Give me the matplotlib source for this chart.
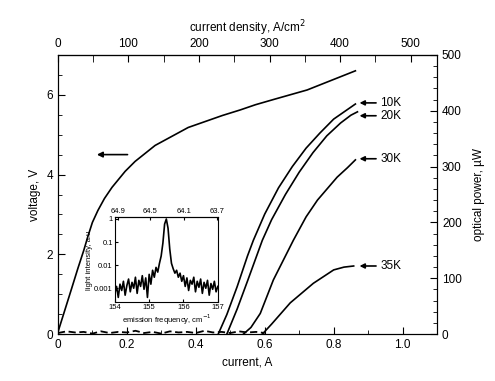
import matplotlib
matplotlib.use("Agg")
import matplotlib.pyplot as plt
from matplotlib.ticker import MultipleLocator, FixedLocator

plt.rcParams["font.family"] = ["Liberation Sans", "DejaVu Sans"]

# voltage vs current (left axis)
v_current = [0.0, 0.02, 0.04, 0.058, 0.075, 0.087, 0.1, 0.116, 0.135, 0.157, 0.195, 0.224,
             0.282, 0.378, 0.477, 0.529, 0.573, 0.625, 0.723, 0.863]
voltage = [0.05, 0.6, 1.15, 1.65, 2.1, 2.45, 2.8, 3.1, 3.4, 3.68, 4.08, 4.33,
           4.73, 5.18, 5.48, 5.62, 5.75, 5.88, 6.12, 6.6]

# optical power vs current (right axis), uW
i_10k = [0.465, 0.49, 0.52, 0.55, 0.567, 0.60, 0.64, 0.68, 0.72, 0.76, 0.80, 0.835, 0.863]
p_10k = [0, 35, 85, 140, 168, 215, 262, 300, 333, 360, 385, 400, 412]
i_20k = [0.49, 0.52, 0.55, 0.593, 0.62, 0.66, 0.70, 0.74, 0.78, 0.82, 0.85, 0.869]
p_20k = [0, 45, 95, 168, 205, 250, 290, 325, 355, 378, 392, 398]
i_30k = [0.538, 0.56, 0.587, 0.625, 0.683, 0.72, 0.753, 0.81, 0.84, 0.863]
p_30k = [0, 12, 37, 97, 168, 210, 240, 281, 298, 312]
i_35k = [0.593, 0.62, 0.674, 0.741, 0.80, 0.83, 0.858]
p_35k = [0, 18, 56, 91, 115, 120, 122]
temps = ["10K", "20K", "30K", "35K"]
label_p = [414, 391, 314, 122]

# noisy dark baseline below threshold
base_i = [0.0, 0.025, 0.05, 0.075, 0.1, 0.125, 0.15, 0.175, 0.2, 0.225, 0.25, 0.275,
          0.3, 0.325, 0.35, 0.375, 0.4, 0.425, 0.45, 0.475, 0.5, 0.525, 0.55, 0.575, 0.6]
base_p = [2, 5, 3, 4, 1, 5, 2, 4, 3, 6, 2, 4, 1, 5, 3, 4, 2, 6, 3, 4, 2, 5, 3, 4, 2]

# inset spectrum
freq = [154.00, 154.05, 154.10, 154.15, 154.20, 154.25, 154.30, 154.35, 154.40, 154.45,
        154.50, 154.55, 154.60, 154.65, 154.70, 154.75, 154.80, 154.85, 154.90, 154.95,
        155.00, 155.05, 155.10, 155.15, 155.20, 155.25, 155.30, 155.35, 155.40, 155.45,
        155.50, 155.55, 155.60, 155.65, 155.70, 155.75, 155.80, 155.85, 155.90, 155.95,
        156.00, 156.05, 156.10, 156.15, 156.20, 156.25, 156.30, 156.35, 156.40, 156.45,
        156.50, 156.55, 156.60, 156.65, 156.70, 156.75, 156.80, 156.85, 156.90, 156.95,
        157.00]
intensity = [0.0006, 0.0012, 0.0004, 0.0015, 0.0008, 0.0020, 0.0005, 0.0013, 0.0025, 0.0007,
             0.0018, 0.0010, 0.0030, 0.0006, 0.0022, 0.0012, 0.0035, 0.0009, 0.0028, 0.0004,
             0.0040, 0.0015, 0.0060, 0.0030, 0.0080, 0.0050, 0.0120, 0.0250, 0.0900, 0.6000,
             1.0000, 0.4000, 0.0500, 0.0120, 0.0070, 0.0045, 0.0060, 0.0030, 0.0045, 0.0020,
             0.0035, 0.0012, 0.0028, 0.0008, 0.0022, 0.0015, 0.0030, 0.0007, 0.0020, 0.0011,
             0.0025, 0.0006, 0.0018, 0.0010, 0.0022, 0.0005, 0.0016, 0.0009, 0.0020, 0.0007,
             0.0012]
wl_ticks = [64.9, 64.5, 64.1, 63.7]

fs = 8.5
fig = plt.figure(figsize=(4.95, 3.81), dpi=100)
ax = fig.add_axes([0.117, 0.123, 0.766, 0.733])
ax2 = ax.twinx()

ax.plot(v_current, voltage, color="black", lw=1.2)
for ii, pp in [(i_10k, p_10k), (i_20k, p_20k), (i_30k, p_30k), (i_35k, p_35k)]:
    ax2.plot(ii, pp, color="black", lw=1.2)
ax2.plot(base_i, base_p, color="black", lw=1.3, ls=(0, (4, 2)))

ax.set_xlim(0, 1.1)
ax.set_ylim(0, 7)
ax2.set_ylim(0, 500)

ax.xaxis.set_major_locator(FixedLocator([0, 0.2, 0.4, 0.6, 0.8, 1.0]))
ax.set_xticklabels(["0", "0.2", "0.4", "0.6", "0.8", "1.0"])
ax.xaxis.set_minor_locator(MultipleLocator(0.1))
ax.yaxis.set_major_locator(MultipleLocator(2))
ax.yaxis.set_minor_locator(MultipleLocator(0.5))
ax2.yaxis.set_major_locator(MultipleLocator(100))
ax2.yaxis.set_minor_locator(MultipleLocator(20))

for a in (ax, ax2):
    a.tick_params(which="both", direction="in", labelsize=fs)
    a.tick_params(which="major", length=5)
    a.tick_params(which="minor", length=3)

# top axis: current density
top = ax.secondary_xaxis("top", functions=(lambda i: i * 488.6, lambda j: j / 488.6))
top.xaxis.set_major_locator(MultipleLocator(100))
top.xaxis.set_minor_locator(MultipleLocator(50))
top.tick_params(which="both", direction="in", labelsize=fs)
top.tick_params(which="major", length=5)
top.tick_params(which="minor", length=5)
top.set_xlabel("current density, A/cm$^2$", fontsize=fs)

ax.set_xlabel("current, A", fontsize=fs)
ax.set_ylabel("voltage, V", fontsize=fs)
ax2.set_ylabel("optical power, µW", fontsize=fs, rotation=90, labelpad=8)

# arrow pointing to the voltage axis
ax.annotate("", xy=(0.105, 4.5), xytext=(0.21, 4.5),
            arrowprops=dict(arrowstyle="-|>", color="black", lw=1.2, mutation_scale=8))

# temperature labels with arrows
for t, p in zip(temps, label_p):
    ax2.annotate(t, xy=(0.875, p), xytext=(0.935, p), va="center", ha="left", fontsize=fs,
                 arrowprops=dict(arrowstyle="-|>", color="black", lw=1.2,
                                 mutation_scale=7, shrinkA=1, shrinkB=0))

# inset spectrum
ins = fig.add_axes([0.232, 0.207, 0.208, 0.223])
ins.plot(freq, intensity, color="black", lw=1.2)
ins.set_yscale("log")
ins.set_xlim(154, 157)
ins.set_ylim(2.5e-4, 1.2)
ins.xaxis.set_major_locator(FixedLocator([154, 155, 156, 157]))
ins.yaxis.set_major_locator(FixedLocator([1, 0.1, 0.01, 0.001]))
ins.set_yticklabels(["1", "0.1", "0.01", "0.001"])
ins.yaxis.set_minor_locator(FixedLocator([]))
ins.tick_params(which="both", direction="in", labelsize=5.5, length=2, pad=1.5)
ins.set_xlabel("emission frequency, cm$^{-1}$", fontsize=5.5, labelpad=1)
ins.set_ylabel("light intensity, a.u.", fontsize=5.5, labelpad=1)
ins_top = ins.secondary_xaxis("top", functions=(lambda f: 1e4 / f, lambda w: 1e4 / w))
ins_top.xaxis.set_major_locator(FixedLocator(wl_ticks))
ins_top.tick_params(direction="in", labelsize=5.5, length=2, pad=1.5)

fig.savefig("out.png", dpi=100)
